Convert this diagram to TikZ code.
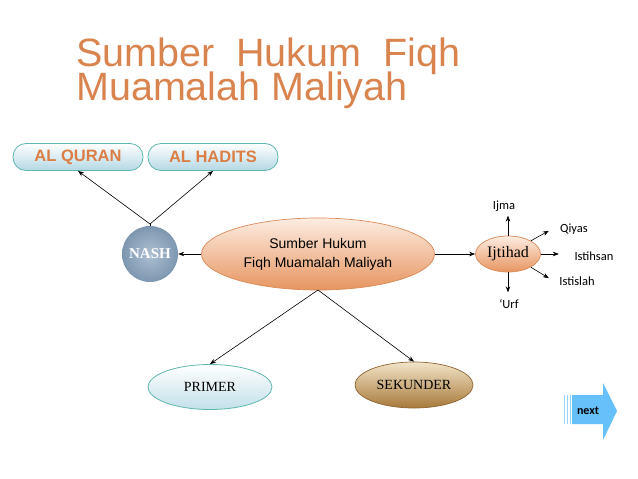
\documentclass[tikz,border=0pt]{standalone}
\usepackage{fontspec}
\setmainfont{Liberation Serif}
\newfontfamily\arialf{Liberation Sans}
\newfontfamily\calf{Carlito}
\usetikzlibrary{arrows.meta,shapes.geometric,shadings}
\definecolor{titleor}{HTML}{D9844F}
\definecolor{pillor}{HTML}{DB7E46}
\definecolor{tealb}{HTML}{5FB8B0}
\definecolor{nextb}{HTML}{66C0FA}
\definecolor{pillbot}{HTML}{B4D8E4}
\definecolor{nashin}{HTML}{AEC0D2}
\definecolor{nashout}{HTML}{7D96B0}
\definecolor{ortop}{HTML}{FDEDE2}
\definecolor{orbot}{HTML}{E69560}
\definecolor{ordraw}{HTML}{D98A58}
\definecolor{sektop}{HTML}{F2E4C8}
\definecolor{sekbot}{HTML}{A8793A}
\definecolor{sekdraw}{HTML}{8E6430}
\tikzset{
  arr/.style={-{Stealth[length=6pt,width=4.5pt]}, line width=0.6pt},
  titletext/.style={anchor=base west, inner sep=0pt, text=titleor, font=\arialf\fontsize{39.5}{40}\selectfont},
  pill/.style={draw=tealb, line width=0.8pt, rounded corners=13pt, minimum width=130pt, minimum height=27pt,
    top color=white, bottom color=pillbot, text=pillor, font=\arialf\bfseries\fontsize{16.5}{18}\selectfont, inner sep=0pt},
  bluell/.style={ellipse, draw=tealb, line width=0.8pt, top color=white, bottom color=pillbot!80,
    font=\fontsize{14}{16}\selectfont},
  orell/.style={ellipse, draw=ordraw, line width=0.7pt, top color=ortop, bottom color=orbot,
    inner sep=0pt},
  sekell/.style={ellipse, draw=sekdraw, line width=0.7pt, top color=sektop, bottom color=sekbot,
    font=\fontsize{14}{16}\selectfont},
  small/.style={font=\calf\fontsize{12.5}{14}\selectfont, inner sep=0pt}
}
\begin{document}
\begin{tikzpicture}[x=1pt,y=-1pt]
\useasboundingbox[fill=white] (0,0) rectangle (638,479);

% title
\node[titletext] (title1) at (76,66) {Sumber\ \ Hukum\ \ Fiqh};
\node[titletext] (title2) at (76,100) {Muamalah Maliyah};

% top pills
\node[pill] (quran) at (78,157) {AL QURAN};
\node[pill] (hadits) at (213,157) {AL HADITS};

% nash
\node[circle, minimum size=56pt, inner sep=0pt, inner color=nashin, outer color=nashout,
  text=white, font=\bfseries\fontsize{15}{17}\selectfont] (nash) at (150,254) {NASH};
\coordinate (nj) at (150,224);

% central
\node[orell, minimum width=233pt, minimum height=72pt, align=center,
  font=\arialf\fontsize{14}{19}\selectfont] (central) at (318,254)
  {Sumber Hukum\\Fiqh Muamalah Maliyah};

% ijtihad
\node[orell, minimum width=65pt, minimum height=36pt, font=\fontsize{16}{18}\selectfont] (ijt) at (508,254) {Ijtihad};

\node[small] (ijma) at (504,206) {Ijma};
\node[small] (qiyas) at (574,229) {Qiyas};
\node[small] (istihsan) at (594,256) {Istihsan};
\node[small] (istislah) at (577,281) {Istislah};
\node[small] (urf) at (509,304) {‘Urf};

% primer / sekunder
\node[bluell, minimum width=124pt, minimum height=45pt] (primer) at (210,387) {PRIMER};
\node[sekell, minimum width=118pt, minimum height=46pt] (sekunder) at (414,385) {SEKUNDER};

% connectors
\draw[line width=0.6pt] (nash.north) -- (nj);
\draw[arr] (nj) -- (quran.south);
\draw[arr] (nj) -- (hadits.south);
\draw[arr] (central.west) -- (nash.east);
\draw[arr] (central.east) -- (ijt.west);
\coordinate (cb) at (318,290);
\draw[arr] (cb) -- (primer.north);
\draw[arr] (cb) -- (sekunder.north);

\draw[arr] (ijt.north) -- ++(0,-20);
\draw[arr] (ijt.30) -- ++(18,-10);
\draw[arr] (ijt.east) -- ++(18,0);
\draw[arr] (ijt.-30) -- ++(18,11);
\draw[arr] (ijt.south) -- ++(0,20);

% next button
\fill[nextb] (572,395) -- (603,395) -- (603,383) -- (617,411) -- (603,440) -- (603,424) -- (572,424) -- cycle;
\foreach \xx in {564,567,570} \draw[nextb!70, line width=1pt] (\xx,395) -- (\xx,424);
\node[font=\calf\bfseries\fontsize{12}{13}\selectfont, inner sep=0pt] (next) at (588,411) {next};
\end{tikzpicture}
\end{document}
